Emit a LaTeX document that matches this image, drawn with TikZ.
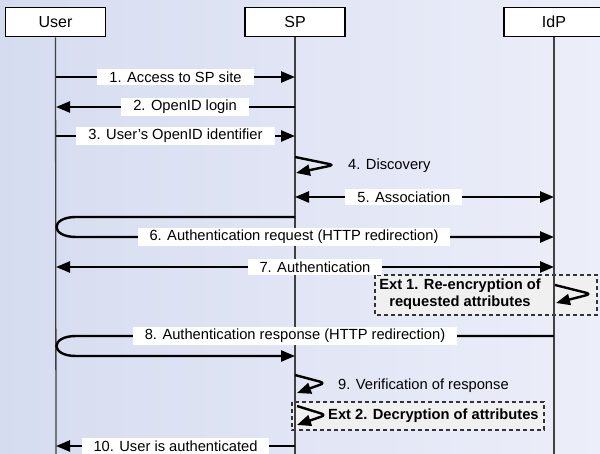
\documentclass[tikz,border=0pt]{standalone}
\usepackage{fontspec}
\setmainfont{Liberation Sans}
\usetikzlibrary{arrows.meta}
\definecolor{bgleft}{RGB}{214,220,240}
\definecolor{bgright}{RGB}{236,238,249}
\tikzset{
	>={Triangle[length=14pt,width=11pt]},
	actor/.style={draw=black, line width=1.6pt, fill=white, minimum width=100pt, minimum height=29pt, inner sep=0pt, font=\fontsize{16}{18}\selectfont},
	life/.style={draw=black!75, line width=1.3pt},
	msg/.style={draw=black, line width=2.4pt},
	selfmsg/.style={msg, rounded corners=5pt},
	lbl/.style={fill=white, inner xsep=12pt, inner ysep=2.5pt, font=\fontsize{14.7}{17}\selectfont},
	note/.style={inner sep=0pt, anchor=west, font=\fontsize{14.7}{17}\selectfont},
	extbox/.style={draw=black!80, dash pattern=on 4pt off 3pt, line width=1.2pt, fill=black!6},
	exttext/.style={inner sep=0pt, align=center, font=\bfseries\fontsize{14.7}{16.5}\selectfont}
}

\begin{document}
\begin{tikzpicture}[x=1pt, y=-1pt]
		%%%%% START %%%%%
		\useasboundingbox (0,0) rectangle (600,454);
		\clip (0,0) rectangle (600,454);
		\fill[left color=bgleft, right color=bgright] (0,0) rectangle (600,454);
		
		% extension boxes
		\draw[extbox] (375,275) rectangle (597,315);
		\draw[extbox] (292,402) rectangle (544,430);
		
		% actors and lifelines
		\node[actor] (user) at (55.5,22) {User};
		\node[actor] (sp) at (295,22) {SP};
		\node[actor] (idp) at (554,22) {IdP};
		\coordinate (userend) at (56,454);
		\coordinate (spend) at (295,454);
		\coordinate (idpend) at (554,454);
		\draw[life] (user.south) -- (userend);
		\draw[life] (sp.south) -- (spend);
		\draw[life] (idp.south) -- (idpend);
		
		% 1-3
		\coordinate (u1) at (56,77);  \coordinate (s1) at (295,77);
		\coordinate (u2) at (56,107); \coordinate (s2) at (295,107);
		\coordinate (u3) at (56,136); \coordinate (s3) at (295,136);
		\draw[msg,->] (u1) -- node[lbl] (l1) {1. Access to SP site} (s1);
		\draw[msg,->] (s2) -- node[lbl,pos=0.46] (l2) {2. OpenID login} (u2);
		\draw[msg,->] (u3) -- node[lbl] (l3) {3. User{\char"0027}s OpenID identifier} (s3);
		
		% 4 discovery
		\coordinate (s4a) at (295,157); \coordinate (s4b) at (334,165); \coordinate (s4c) at (296,173);
		\draw[selfmsg,->] (s4a) -- (s4b) -- (s4c);
		\node[note] (l4) at (348,166) {4. Discovery};
		
		% 5 association
		\coordinate (s5) at (295,197); \coordinate (i5) at (554,197);
		\draw[msg,<->] (s5) -- node[lbl,pos=0.42] (l5) {5. Association} (i5);
		
		% 6 redirect via user
		\coordinate (s6) at (295,217); \coordinate (r6a) at (76,217);
		\coordinate (r6b) at (76,237); \coordinate (i6) at (554,237);
		\draw[msg,->] (s6) -- (r6a) .. controls (50,217) and (50,237) .. (r6b) -- (i6);
		\node[lbl] (l6) at (294,237) {6. Authentication request (HTTP redirection)};
		
		% 7 authentication
		\coordinate (u7) at (56,267); \coordinate (i7) at (554,267);
		\draw[msg,<->] (u7) -- node[lbl,pos=0.52] (l7) {7. Authentication} (i7);
		
		% ext 1
		\coordinate (e1a) at (555,285); \coordinate (e1b) at (591,294); \coordinate (e1c) at (556,303);
		\draw[selfmsg,->] (e1a) -- (e1b) -- (e1c);
		\node[exttext] (x1) at (460,294) {Ext 1. Re-encryption of\\requested attributes};
		
		% 8 response via user
		\coordinate (i8) at (554,336); \coordinate (r8a) at (76,336);
		\coordinate (r8b) at (76,356); \coordinate (s8) at (295,356);
		\draw[msg,->] (i8) -- (r8a) .. controls (50,336) and (50,356) .. (r8b) -- (s8);
		\node[lbl] (l8) at (295,336) {8. Authentication response (HTTP redirection)};
		
		% 9 verification
		\coordinate (s9a) at (295,375); \coordinate (s9b) at (325,383); \coordinate (s9c) at (297,393);
		\draw[selfmsg,->] (s9a) -- (s9b) -- (s9c);
		\node[note] (l9) at (338,386) {9. Verification of response};
		
		% ext 2
		\coordinate (e2a) at (297,406); \coordinate (e2b) at (326,415); \coordinate (e2c) at (297,425);
		\draw[selfmsg,->] (e2a) -- (e2b) -- (e2c);
		\node[exttext, anchor=west] (x2) at (328,416) {Ext 2. Decryption of attributes};
		
		% 10
		\coordinate (s10) at (295,446); \coordinate (u10) at (56,446);
		\draw[msg,->] (s10) -- node[lbl] (l10) {10. User is authenticated} (u10);
		%%%%% END %%%%%
	\end{tikzpicture}
\end{document}
